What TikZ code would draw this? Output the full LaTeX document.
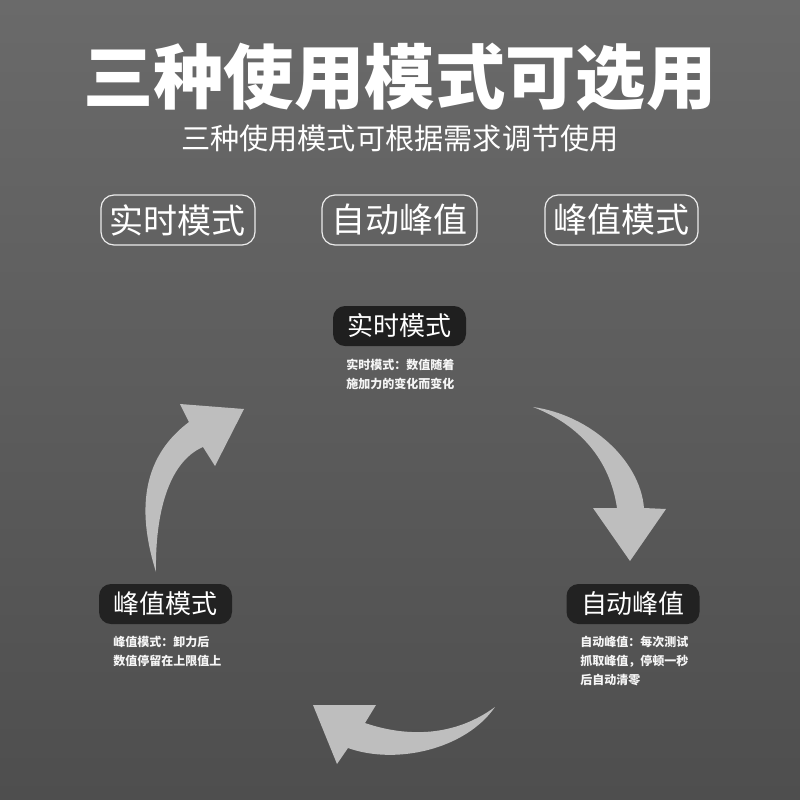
\documentclass[tikz,border=0pt]{standalone}
\usepackage{fontspec}
\setmainfont{Noto Sans CJK SC}
\usepackage{xcolor}
\usetikzlibrary{positioning}
\definecolor{bgtop}{RGB}{106,106,106}
\definecolor{bgbottom}{RGB}{78,78,78}
\definecolor{arrowgray}{RGB}{190,190,190}
\definecolor{pilldark}{RGB}{34,34,34}

\begin{document}
\begin{tikzpicture}[x=0.5pt,y=-0.5pt,
		modebox/.style={draw=white!85!gray, line width=0.6pt, rounded corners=6.5pt, minimum height=25pt, text=white, font=\fontsize{17}{17}\selectfont, inner sep=0pt},
		pill/.style={fill=pilldark, rounded corners=6pt, minimum width=66.5pt, minimum height=20pt, text=white, font=\fontsize{13}{13}\selectfont, inner sep=0pt},
		note/.style={anchor=north west, align=left, text=white!92!gray, inner sep=0pt, font=\fontsize{6}{9.5}\selectfont\bfseries},
		cyclearrow/.style={fill=arrowgray, draw=none}]
			\useasboundingbox (0,0) rectangle (800,800);
			\shade[top color=bgtop, bottom color=bgbottom] (0,0) rectangle (800,800);

			\node[text=white, font=\fontsize{35.2}{35.2}\selectfont\bfseries] (title) at (400,77) {三种使用模式可选用};
			\node[text=white, font=\fontsize{14.6}{14.6}\selectfont] (subtitle) at (400,138) {三种使用模式可根据需求调节使用};

			\node[modebox, minimum width=77pt] (boxA) at (178,220) {实时模式};
			\node[modebox, minimum width=77.5pt] (boxB) at (399.5,220) {自动峰值};
			\node[modebox, minimum width=76.5pt] (boxC) at (621.5,220) {峰值模式};

			\node[pill, fill=black!88] (realtime) at (399.5,326) {实时模式};
			\node[pill] (autopeak) at (633,604) {自动峰值};
			\node[pill] (peakhold) at (165.5,604) {峰值模式};

			\node[note] (realtimeNote) at (346,359) {实时模式：数值随着\\施加力的变化而变化};
			\node[note] (autopeakNote) at (580,636) {自动峰值：每次测试\\抓取峰值，停顿一秒\\后自动清零};
			\node[note] (peakholdNote) at (113,636) {峰值模式：卸力后\\数值停留在上限值上};

			\fill[cyclearrow] (156,572) .. controls (135,505) and (145,455) .. (189,422)
				-- (180,404) -- (244,409) -- (215,466) -- (203,447)
				.. controls (168,462) and (155,515) .. (156,572) -- cycle;
			\fill[cyclearrow] (533,407) .. controls (590,415) and (640,460) .. (644,508)
				-- (666,509) -- (630,561) -- (593,508) -- (617,508)
				.. controls (610,460) and (580,425) .. (533,407) -- cycle;
			\fill[cyclearrow] (495,707) .. controls (450,740) and (400,735) .. (365,723)
				-- (376,705) -- (313,705) -- (337,764) -- (348,748)
				.. controls (395,765) and (465,750) .. (495,707) -- cycle;
		\end{tikzpicture}
\end{document}
